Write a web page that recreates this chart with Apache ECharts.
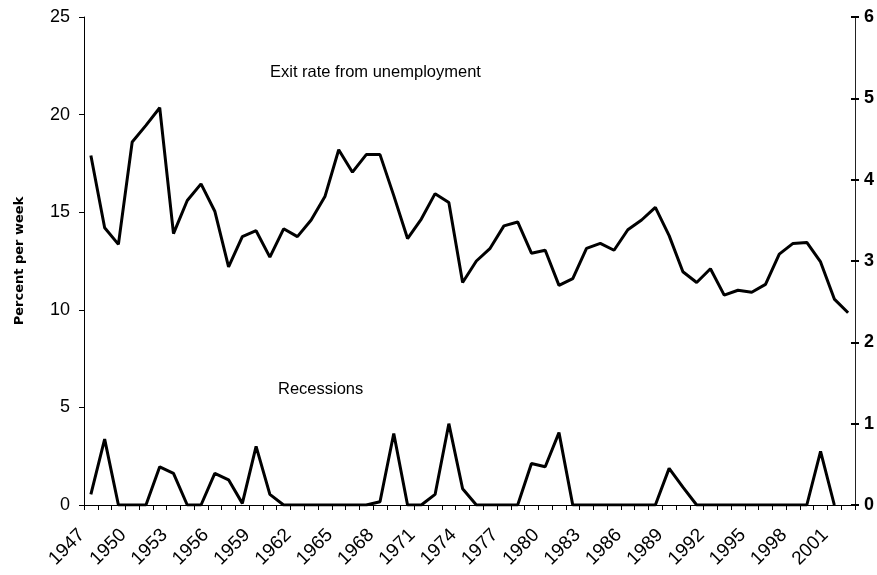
<!DOCTYPE html>
<html>
<head>
<meta charset="utf-8">
<script src="https://cdn.jsdelivr.net/npm/echarts@6/dist/echarts.min.js"></script>
<style>
html,body{margin:0;padding:0;background:#fff;overflow:hidden;}
#chart{width:877px;height:575px;}
</style>
</head>
<body>
<div id="chart"></div>
<script>
// Data years (each value is drawn at the middle of its year slot)
var years = [1947,1948,1949,1950,1951,1952,1953,1954,1955,1956,1957,1958,1959,1960,
  1961,1962,1963,1964,1965,1966,1967,1968,1969,1970,1971,1972,1973,1974,1975,1976,
  1977,1978,1979,1980,1981,1982,1983,1984,1985,1986,1987,1988,1989,1990,1991,1992,
  1993,1994,1995,1996,1997,1998,1999,2000,2001,2002];
// Exit rate from unemployment, percent per week (left axis)
var exitRate = [17.9,14.2,13.35,18.6,19.45,20.35,13.9,15.6,16.45,15.05,
  12.2,13.75,14.05,12.7,14.15,13.75,14.6,15.8,18.2,17.05,
  17.95,17.95,15.85,13.65,14.65,15.95,15.5,11.4,12.5,13.15,
  14.3,14.5,12.9,13.05,11.25,11.6,13.15,13.4,13.05,14.1,
  14.6,15.25,13.8,11.95,11.4,12.1,10.75,11.0,10.9,11.3,
  12.85,13.4,13.45,12.45,10.55,9.85];
// Recessions (right axis)
var recessions = [0.13,0.81,0,0,0,0.47,0.39,0,0,0.39,
  0.31,0.02,0.72,0.13,0,0,0,0,0,0,
  0,0.04,0.88,0,0,0.13,1.0,0.2,0,0,
  0,0,0.51,0.47,0.89,0,0,0,0,0,
  0,0,0.45,0.22,0,0,0,0,0,0,
  0,0,0,0.66,0,null];
var xMin = 1947, xMax = 2003, labelStep = 3;
var leftTicks = {min:0, max:25, interval:5};
var rightTicks = {min:0, max:6, interval:1};

function pairs(vals){
  var out = [];
  for (var i=0;i<years.length;i++){
    if (vals[i] !== null && vals[i] !== undefined) out.push([years[i]+0.5, vals[i]]);
  }
  return out;
}

var chart = echarts.init(document.getElementById('chart'), null, {renderer:'canvas'});
var tickFont = {color:'#000', fontSize:18, fontFamily:'Liberation Sans, Arial, sans-serif'};
chart.setOption({
  animation:false,
  backgroundColor:'#fff',
  grid:{left:84, right:13, top:17, bottom:70, containLabel:false},
  xAxis:{
    type:'value', min:xMin, max:xMax, interval:1,
    axisLine:{lineStyle:{color:'#000', width:1}},
    axisTick:{show:true, length:5, lineStyle:{color:'#000', width:1}},
    splitLine:{show:false},
    axisLabel:Object.assign({
      rotate:45, margin:25, padding:[0,3,0,0],
      formatter:function(v){ return ((v - xMin) % labelStep === 0 && v < xMax) ? String(v) : ''; }
    }, tickFont, {fontSize:19})
  },
  yAxis:[
    {
      type:'value', min:leftTicks.min, max:leftTicks.max, interval:leftTicks.interval,
      position:'left',
      name:'Percent per week', nameLocation:'middle', nameGap:58, nameRotate:90,
      nameTextStyle:{color:'#000', fontSize:13, fontWeight:'bold', fontFamily:'DejaVu Sans, sans-serif'},
      axisLine:{show:true, lineStyle:{color:'#000', width:1}},
      axisTick:{show:true, length:5, lineStyle:{color:'#000'}},
      splitLine:{show:false},
      axisLabel:Object.assign({margin:14}, tickFont)
    },
    {
      type:'value', min:rightTicks.min, max:rightTicks.max, interval:rightTicks.interval,
      position:'right',
      axisLine:{show:true, lineStyle:{color:'#222', width:1}},
      axisTick:{show:true, length:4, lineStyle:{color:'#000', width:2}},
      splitLine:{show:false},
      axisLabel:Object.assign({margin:9}, tickFont, {fontSize:18, fontWeight:'bold'})
    },
    {
      type:'value', min:rightTicks.min, max:rightTicks.max, interval:rightTicks.interval,
      position:'right',
      axisLine:{show:false},
      axisTick:{show:true, inside:true, length:4, lineStyle:{color:'#000', width:2}},
      splitLine:{show:false},
      axisLabel:{show:false}
    }
  ],
  series:[
    {
      name:'Exit rate from unemployment', type:'line', yAxisIndex:0,
      data:pairs(exitRate), showSymbol:false, symbol:'none',
      lineStyle:{color:'#000', width:3}, z:3
    },
    {
      name:'Recessions', type:'line', yAxisIndex:1,
      data:pairs(recessions), showSymbol:false, symbol:'none',
      lineStyle:{color:'#000', width:3}, z:3
    }
  ],
  graphic:[
    {type:'text', left:270, top:64, style:{text:'Exit rate from unemployment', fill:'#000',
      font:'16.5px "Liberation Sans", Arial, sans-serif'}},
    {type:'text', left:278, top:381, style:{text:'Recessions', fill:'#000',
      font:'16.5px "Liberation Sans", Arial, sans-serif'}}
  ]
});
</script>
</body>
</html>
